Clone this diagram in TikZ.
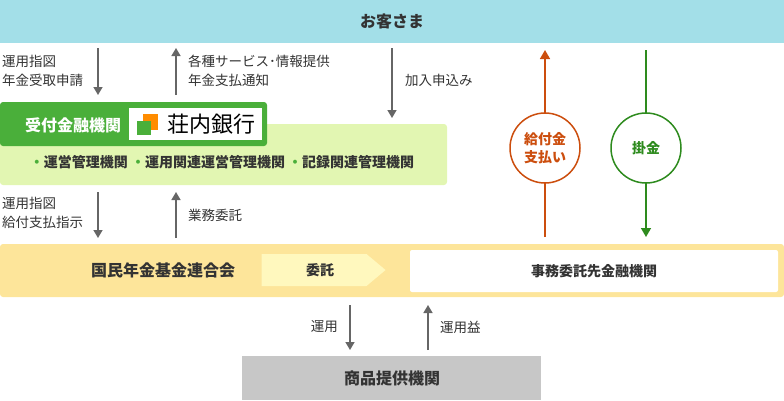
\documentclass[tikz,border=0pt]{standalone}
\usepackage{fontspec}
\setmainfont{Noto Sans CJK JP}
\usetikzlibrary{arrows.meta, shapes.arrows, positioning}
\definecolor{SkyBar}{HTML}{A3DFE8}
\definecolor{LeafDark}{HTML}{4AAF3A}
\definecolor{LeafLight}{HTML}{E2F6B2}
\definecolor{BandYellow}{HTML}{FDE59A}
\definecolor{PaleYellow}{HTML}{FFF8BE}
\definecolor{RustOrange}{HTML}{CC4E0E}
\definecolor{PayGreen}{HTML}{2E8B1E}
\definecolor{ArrowGray}{HTML}{666666}
\definecolor{TextDark}{HTML}{333333}

\begin{document}
\begin{tikzpicture}[x=1pt, y=-1pt, font=\fontsize{13}{16}\selectfont,
    flow/.style={draw=ArrowGray, line width=1.5pt, -{Triangle[width=9pt, length=8pt]}},
    note/.style={text=TextDark, align=left, inner sep=0pt, font=\fontsize{13.5}{19}\selectfont},
    title/.style={text=TextDark, font=\fontsize{16}{19}\selectfont\bfseries},
    label/.style={text=TextDark, font=\fontsize{14}{17}\selectfont\bfseries},
    coin/.style={circle, draw, line width=1.5pt, fill=white, minimum size=70pt, inner sep=0pt, align=center, font=\fontsize{14}{18}\selectfont\bfseries}]
    \useasboundingbox (0,0) rectangle (784,400);

    % customers
    \fill[SkyBar] (0,0) rectangle (784,43);
    \node[title] (kyaku) at (392,21) {お客さま};

    % receiving bank
    \fill[LeafLight, rounded corners=3pt] (0,124) rectangle (447,185);
    \fill[LeafDark, rounded corners=3pt] (0,102) rectangle (267,146);
    \node[font=\fontsize{16}{19}\selectfont\bfseries, text=white] (uketsuke) at (73,125) {受付金融機関};
    \fill[white] (129,108) rectangle (262,140);
    \fill[orange!90!yellow] (143,114) rectangle (158,130);
    \fill[LeafDark] (137,121) rectangle (151,135);
    \node[font=\fontsize{22}{24}\selectfont, text=black] (bank) at (211,124) {荘内銀行};
    \node[label] (kikan) at (222,162)
        {\textcolor{LeafDark}{・}運営管理機関 \textcolor{LeafDark}{・}運用関連運営管理機関 \textcolor{LeafDark}{・}記録関連管理機関};

    % national pension fund federation
    \fill[BandYellow, rounded corners=3pt] (0,244) rectangle (784,297);
    \node[title] (rengokai) at (163,270) {国民年金基金連合会};
    \node[single arrow, fill=PaleYellow, minimum height=124pt, minimum width=32pt,
          single arrow head extend=0pt, single arrow tip angle=80, inner sep=2pt] (itaku) at (314,270) {};
    \node[label] at (320,270) {委託};
    \fill[white, rounded corners=2pt] (410,250) rectangle (778,292);
    \node[label] (jimu) at (594,271) {事務委託先金融機関};

    % product providers
    \fill[black!22] (242,356) rectangle (541,400);
    \node[title] (shohin) at (392,378) {商品提供機関};

    % coordinates for connectors
    \coordinate (a1) at (98,48);  \coordinate (a2) at (98,95);
    \coordinate (b1) at (176,95); \coordinate (b2) at (176,48);
    \coordinate (c1) at (392,48); \coordinate (c2) at (392,118);
    \coordinate (d1) at (98,192); \coordinate (d2) at (98,238);
    \coordinate (e1) at (176,238); \coordinate (e2) at (176,192);
    \coordinate (f1) at (350,305); \coordinate (f2) at (350,350);
    \coordinate (g1) at (428,350); \coordinate (g2) at (428,305);

    \draw[flow] (a1) -- (a2);
    \draw[flow] (b1) -- (b2);
    \draw[flow] (c1) -- (c2);
    \draw[flow] (d1) -- (d2);
    \draw[flow] (e1) -- (e2);
    \draw[flow] (f1) -- (f2);
    \draw[flow] (g1) -- (g2);

    \node[note, anchor=north west] at (2,55) {運用指図\\年金受取申請};
    \node[note, anchor=north west] at (188,55) {各種サービス･情報提供\\年金支払通知};
    \node[note, anchor=west] at (405,80) {加入申込み};
    \node[note, anchor=north west] at (2,197) {運用指図\\給付支払指示};
    \node[note, anchor=west] at (188,215) {業務委託};
    \node[note, anchor=east] at (338,327) {運用};
    \node[note, anchor=west] at (440,327) {運用益};

    % benefits and contributions
    \coordinate (h1) at (545,237); \coordinate (h2) at (545,50);
    \coordinate (k1) at (646,50);  \coordinate (k2) at (646,237);
    \draw[RustOrange, line width=1.5pt, -{Triangle[width=10pt, length=9pt]}] (h1) -- (h2);
    \draw[PayGreen, line width=1.5pt, -{Triangle[width=10pt, length=9pt]}] (k1) -- (k2);
    \node[coin, draw=RustOrange, text=RustOrange] (kyufu) at (545,148) {給付金\\支払い};
    \node[coin, draw=PayGreen, text=PayGreen] (kakekin) at (646,148) {掛金};
\end{tikzpicture}
\end{document}
